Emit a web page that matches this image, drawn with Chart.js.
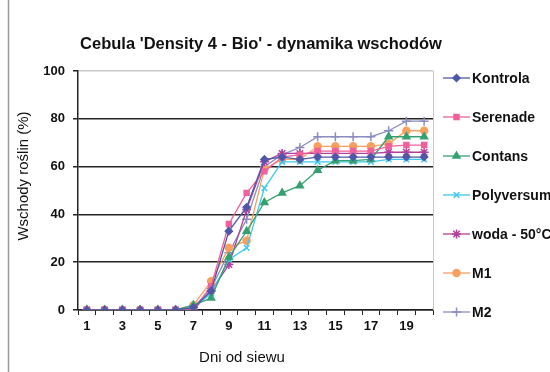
<!DOCTYPE html>
<html>
<head>
<meta charset="utf-8">
<script src="https://cdn.jsdelivr.net/npm/chart.js@4.4.0/dist/chart.umd.min.js"></script>
<style>
  html, body { margin: 0; padding: 0; background: #fff; }
  #wrap { width: 550px; height: 372px; position: relative; }
</style>
</head>
<body>
<div id="wrap"><canvas id="chart" width="550" height="372"></canvas></div>
<script>
const chartTitle = "Cebula 'Density 4 - Bio' - dynamika wschodów";
const xTitle = 'Dni od siewu';
const yTitle = 'Wschody roślin (%)';
const days = ['1','2','3','4','5','6','7','8','9','10','11','12','13','14','15','16','17','18','19','20'];
const yTicks = [0, 20, 40, 60, 80, 100];

const kontrola   = [0,0,0,0,0,0,1,8,33,43,63,64,63,64,64,64,64,64,64,64];
const serenade   = [0,0,0,0,0,0,0,10,36,49,58,64,65,66.5,66.5,66.5,66.5,68.5,69,69];
const contans    = [0,0,0,0,0,0,2,5,22,33,45,49,52,58.5,62.5,62.5,63,72.5,72.5,72.5];
const polyversum = [0,0,0,0,0,0,1,7,21,26,51,62,62,62,62,62,62,63,63,63];
const woda       = [0,0,0,0,0,0,0,8,19,42,62,65.5,65.5,65.5,65.5,65.5,65.5,66,66,66];
const m1         = [0,0,0,0,0,0,2,12,26,29,59,63,63,68.5,68.5,68.5,68.5,69.5,75,75];
const m2         = [0,0,0,0,0,0,1,9,24,38,60,65,68,72.5,72.5,72.5,72.5,75,79,79];

const series = [
  { label: 'Kontrola',    data: kontrola,   color: '#4f58a8', style: 'rectRot',  r: 3.5 },
  { label: 'Serenade',    data: serenade,   color: '#f0609a', style: 'rect',     r: 3.5 },
  { label: 'Contans',     data: contans,    color: '#35a070', style: 'triangle', r: 4 },
  { label: 'Polyversum',  data: polyversum, color: '#3cc8f0', style: 'crossRot', r: 4 },
  { label: 'woda - 50°C', data: woda,       color: '#b0409a', style: 'star',     r: 4.5 },
  { label: 'M1',          data: m1,         color: '#f8a060', style: 'circle',   r: 3.5 },
  { label: 'M2',          data: m2,         color: '#8c8cc0', style: 'cross',    r: 4.5 }
];

const FONT = "'Liberation Sans', Arial, sans-serif";

const datasets = series.map(s => ({
  label: s.label,
  data: s.data,
  borderColor: s.color,
  backgroundColor: s.color,
  pointStyle: s.style,
  pointRadius: s.r,
  pointBorderWidth: 1.5,
  pointBackgroundColor: s.color,
  pointBorderColor: s.color,
  borderWidth: 1.3,
  tension: 0
}));

// titles, side legend and frame drawn by hand to sit where the original has them
const decorations = {
  id: 'decorations',
  afterDraw(chart) {
    const ctx = chart.ctx;
    const area = chart.chartArea;
    ctx.save();

    ctx.fillStyle = '#111';
    ctx.textAlign = 'center';
    ctx.textBaseline = 'middle';
    ctx.font = 'bold 16.5px ' + FONT;
    ctx.fillText(chartTitle, 261, 44);

    ctx.font = '15px ' + FONT;
    ctx.fillText(xTitle, 242, 358);

    ctx.save();
    ctx.translate(24, 176);
    ctx.rotate(-Math.PI / 2);
    ctx.fillText(yTitle, 0, 0);
    ctx.restore();

    chart.data.datasets.forEach((ds, i) => {
      const y = 78 + i * 39;
      ctx.strokeStyle = ds.borderColor;
      ctx.fillStyle = ds.backgroundColor;
      ctx.lineWidth = 1.3;
      ctx.beginPath();
      ctx.moveTo(443, y); ctx.lineTo(470, y);
      ctx.stroke();
      ctx.lineWidth = 1.5;
      Chart.helpers.drawPoint(ctx, { pointStyle: ds.pointStyle, radius: ds.pointRadius, borderWidth: 1.5 }, 456.5, y);
      ctx.fillStyle = '#111';
      ctx.font = 'bold 14px ' + FONT;
      ctx.textAlign = 'left';
      ctx.fillText(ds.label, 472, y + 1);
    });

    ctx.strokeStyle = '#9a9a9a';
    ctx.lineWidth = 1.5;
    ctx.beginPath();
    ctx.moveTo(8.5, 0); ctx.lineTo(8.5, 372);
    ctx.stroke();

    ctx.strokeStyle = '#c8c8c8';
    ctx.lineWidth = 1;
    ctx.beginPath();
    ctx.moveTo(area.right + 0.5, area.top); ctx.lineTo(area.right + 0.5, area.bottom);
    ctx.stroke();
    ctx.restore();
  }
};

new Chart(document.getElementById('chart'), {
  type: 'line',
  data: { labels: days, datasets },
  plugins: [decorations],
  options: {
    responsive: false,
    animation: false,
    layout: { padding: { left: 10, right: 117, top: 71, bottom: 0 } },
    plugins: {
      legend: { display: false },
      tooltip: { enabled: false },
      title: { display: false }
    },
    scales: {
      x: {
        offset: true,
        afterFit(scale) { scale.height = 62; },
        grid: { offset: true, drawOnChartArea: false, drawTicks: true, tickLength: 5, tickColor: '#222' },
        border: { color: '#222', width: 1.5 },
        ticks: {
          autoSkip: false,
          maxRotation: 0,
          padding: 4,
          color: '#111',
          font: { family: FONT, size: 13, weight: 'bold' },
          callback(v, i) { return i % 2 === 0 ? days[i] : ''; }
        }
      },
      y: {
        min: 0,
        max: 100,
        afterFit(scale) { scale.width = 68; },
        afterBuildTicks(scale) { scale.ticks = yTicks.map(v => ({ value: v })); },
        grid: {
          color(c) { return c.tick && c.tick.value === 100 ? '#c8c8c8' : '#222'; },
          lineWidth: 1.5,
          tickLength: 5,
          tickColor: '#222'
        },
        border: { color: '#222', width: 1.5 },
        ticks: {
          padding: 8,
          color: '#111',
          font: { family: FONT, size: 13, weight: 'bold' }
        }
      }
    }
  }
});
</script>
</body>
</html>
